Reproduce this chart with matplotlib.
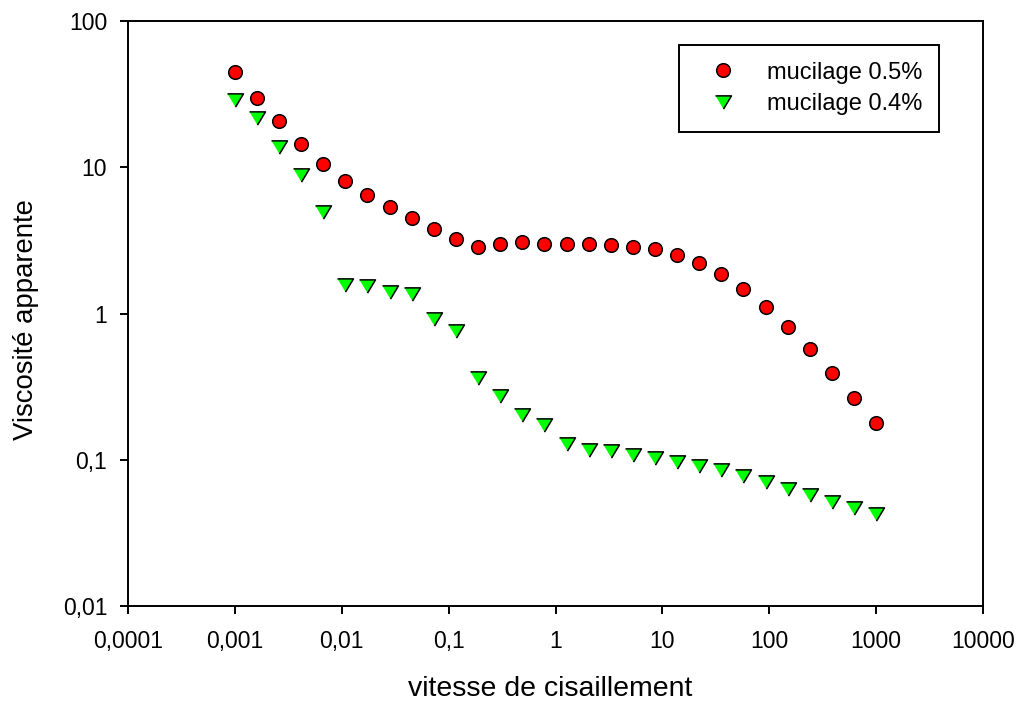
import matplotlib
matplotlib.use("Agg")
import matplotlib.pyplot as plt
from matplotlib.ticker import FixedLocator, FixedFormatter, NullLocator

plt.rcParams['font.family'] = ['Liberation Sans', 'DejaVu Sans']

# shear rate (x) values
shear_rate = [0.001, 0.00161, 0.00259, 0.00418, 0.00672, 0.0108, 0.0174, 0.0281,
              0.0452, 0.0728, 0.117, 0.189, 0.304, 0.489, 0.788, 1.27, 2.04, 3.29,
              5.30, 8.53, 13.7, 22.1, 35.6, 57.4, 92.4, 149, 240, 386, 621, 1000]

# apparent viscosity, mucilage 0.5 %
visc_05 = [44.8, 29.9, 20.7, 14.4, 10.6, 8.05, 6.47, 5.33, 4.48, 3.78,
           3.24, 2.86, 2.98, 3.10, 2.99, 2.98, 2.98, 2.94, 2.86, 2.75,
           2.53, 2.23, 1.87, 1.48, 1.11, 0.81, 0.570, 0.391, 0.264, 0.178]

# apparent viscosity, mucilage 0.4 %
visc_04 = [29.0, 21.7, 13.7, 8.85, 4.92, 1.56, 1.53, 1.41, 1.36, 0.923,
           0.762, 0.362, 0.274, 0.203, 0.174, 0.128, 0.1164, 0.114, 0.107, 0.102,
           0.0964, 0.0911, 0.0847, 0.0779, 0.0704, 0.0635, 0.0574, 0.0517, 0.0468, 0.0429]

labels = ['mucilage 0.5%', 'mucilage 0.4%']

x_ticks = [1e-4, 1e-3, 1e-2, 1e-1, 1, 10, 100, 1000, 10000]
x_tick_labels = ['0,0001', '0,001', '0,01', '0,1', '1', '10', '100', '1000', '10000']
y_ticks = [0.01, 0.1, 1, 10, 100]
y_tick_labels = ['0,01', '0,1', '1', '10', '100']

fig = plt.figure(figsize=(10.21, 7.01), dpi=100)
ax = fig.add_axes([128 / 1021, 1 - 606 / 701, 855 / 1021, 585 / 701])

tri = [(-1.0, 0.83), (1.0, 0.83), (0.0, -0.83)]

ax.plot(shear_rate, visc_05, linestyle='none', marker='o', markersize=9.8,
        markerfacecolor='#ff0000', markeredgecolor='black', markeredgewidth=1.1,
        label=labels[0], zorder=3)
ax.plot(shear_rate, visc_04, linestyle='none', marker=tri, markersize=11.5,
        markerfacecolor='#00ff00', markeredgecolor='black', markeredgewidth=1.1,
        label=labels[1], zorder=3)

ax.set_xscale('log')
ax.set_yscale('log')
ax.set_xlim(1e-4, 1e4)
ax.set_ylim(0.01, 100)

ax.xaxis.set_major_locator(FixedLocator(x_ticks))
ax.xaxis.set_major_formatter(FixedFormatter(x_tick_labels))
ax.yaxis.set_major_locator(FixedLocator(y_ticks))
ax.yaxis.set_major_formatter(FixedFormatter(y_tick_labels))
ax.xaxis.set_minor_locator(NullLocator())
ax.yaxis.set_minor_locator(NullLocator())

for s in ax.spines.values():
    s.set_linewidth(1.4)
ax.tick_params(axis='both', which='major', direction='out', length=6,
               width=1.4, labelsize=16.5, color='black')
ax.tick_params(axis='x', pad=11)
ax.tick_params(axis='y', pad=9)

ax.set_xlabel('vitesse de cisaillement', fontsize=20.5)
ax.set_ylabel('Viscosité apparente', fontsize=19.8)
ax.xaxis.label.set_va('baseline')
ax.xaxis.set_label_coords((550 - 128) / 855, (606 - 696) / 585)
ax.yaxis.label.set_va('baseline')
ax.yaxis.set_label_coords((33 - 128) / 855, (606 - 319.2) / 585)

leg = ax.legend(loc='upper right', bbox_to_anchor=(939 / 1021, 1 - 45 / 701),
                bbox_transform=fig.transFigure, borderaxespad=0,
                fontsize=17, frameon=True, fancybox=False, edgecolor='black',
                borderpad=0.7, handlelength=2.33, handletextpad=0.7,
                labelspacing=0.42, framealpha=1)
leg.get_frame().set_linewidth(1.4)

fig.savefig('out.png', dpi=100)
